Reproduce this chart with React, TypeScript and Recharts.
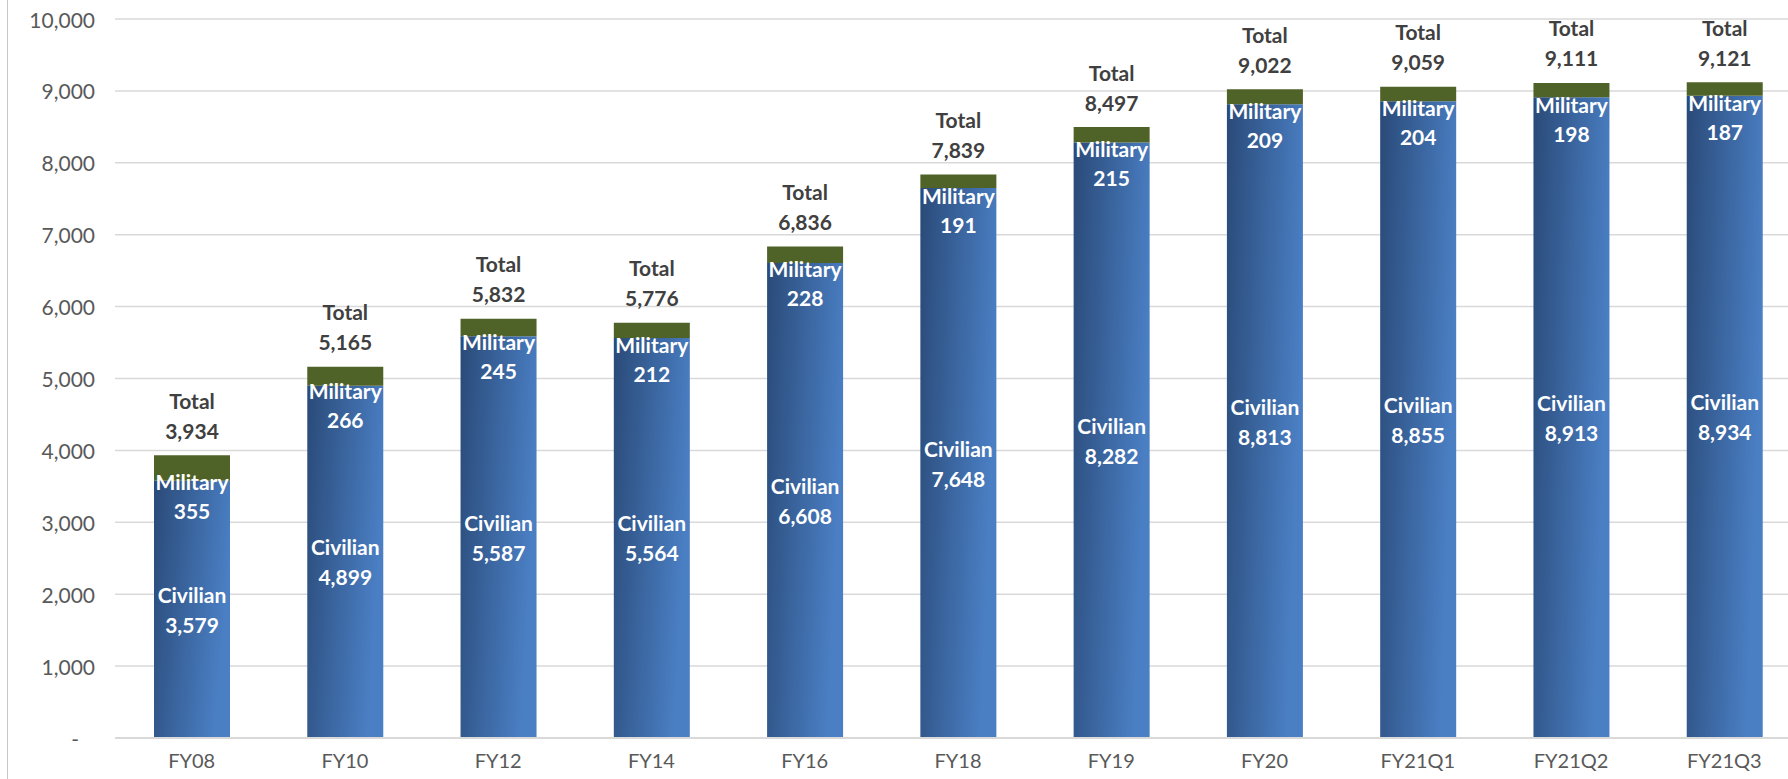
import React from "react";
import {
  BarChart,
  Bar,
  XAxis,
  YAxis,
  CartesianGrid,
  LabelList,
} from "recharts";

const categories = [
  "FY08", "FY10", "FY12", "FY14", "FY16", "FY18",
  "FY19", "FY20", "FY21Q1", "FY21Q2", "FY21Q3",
];
const civilian = [3579, 4899, 5587, 5564, 6608, 7648, 8282, 8813, 8855, 8913, 8934];
const military = [355, 266, 245, 212, 228, 191, 215, 209, 204, 198, 187];
const totals = [3934, 5165, 5832, 5776, 6836, 7839, 8497, 9022, 9059, 9111, 9121];
const yTicks = [0, 1000, 2000, 3000, 4000, 5000, 6000, 7000, 8000, 9000, 10000];

const data = categories.map((label, i) => ({
  label,
  civilian: civilian[i],
  military: military[i],
  total: totals[i],
}));

const FONT = "Lato, 'Open Sans', sans-serif";
const fmt = (v: number) => v.toLocaleString("en-US");

function YTick(props: any) {
  const { x, y, payload } = props;
  const v = payload.value as number;
  return (
    <text
      x={v === 0 ? x - 14 : x + 2}
      y={y}
      textAnchor="end"
      dominantBaseline="central"
      fill="#595959"
      fontSize={21}
      fontFamily={FONT}
    >
      {v === 0 ? "-" : fmt(v)}
    </text>
  );
}

function XTick(props: any) {
  const { x, y, payload } = props;
  return (
    <text
      x={x}
      y={y + 14}
      textAnchor="middle"
      dominantBaseline="central"
      fill="#595959"
      fontSize={20}
      fontFamily={FONT}
    >
      {payload.value}
    </text>
  );
}

function CivilianLabel(props: any) {
  const { x, y, width, height, value } = props;
  const cx = x + width / 2;
  const cy = y + height / 2;
  return (
    <g fontFamily={FONT} fontWeight={700} fontSize={21} fill="#fff" textAnchor="middle">
      <text x={cx} y={cy - 15} dominantBaseline="central">Civilian</text>
      <text x={cx} y={cy + 15} dominantBaseline="central">{fmt(value)}</text>
    </g>
  );
}

function MilitaryLabel(props: any) {
  const { x, y, width, height, value } = props;
  const cx = x + width / 2;
  const mid = y + height / 2;
  return (
    <g fontFamily={FONT} fontWeight={700} fontSize={21} fill="#fff" textAnchor="middle">
      <text x={cx} y={mid + 14} dominantBaseline="central">Military</text>
      <text x={cx} y={mid + 43} dominantBaseline="central">{fmt(value)}</text>
    </g>
  );
}

function TotalLabel(props: any) {
  const { x, y, width, value } = props;
  const cx = x + width / 2;
  return (
    <g fontFamily={FONT} fontWeight={700} fontSize={21} fill="#404040" textAnchor="middle">
      <text x={cx} y={y - 55} dominantBaseline="central">Total</text>
      <text x={cx} y={y - 25} dominantBaseline="central">{fmt(value)}</text>
    </g>
  );
}

export default function App() {
  return (
    <div
      style={{
        position: "fixed",
        left: 0,
        top: 0,
        width: 1788,
        height: 779,
        overflow: "hidden",
        background: "#fff",
      }}
    >
      <div
        style={{
          position: "absolute",
          left: 7,
          top: 0,
          width: 1,
          height: 779,
          background: "#c8c8c8",
        }}
      />
      <BarChart
        width={1801}
        height={779}
        data={data}
        margin={{ top: 19, right: 0, left: 0, bottom: 0 }}
      >
        <defs>
          <linearGradient id="civGrad" x1="0" y1="0" x2="1" y2="0.3">
            <stop offset="0%" stopColor="#2a4a78" />
            <stop offset="100%" stopColor="#4a7fc4" />
          </linearGradient>
        </defs>
        <CartesianGrid vertical={false} stroke="#d9d9d9" strokeWidth={1.5} />
        <XAxis
          dataKey="label"
          axisLine={{ stroke: "#d9d9d9", strokeWidth: 2 }}
          tickLine={false}
          height={41}
          tick={<XTick />}
          interval={0}
        />
        <YAxis
          type="number"
          domain={[0, 10000]}
          ticks={yTicks}
          width={115}
          axisLine={false}
          tickLine={false}
          tickMargin={16}
          tick={<YTick />}
          interval={0}
        />
        <Bar
          dataKey="civilian"
          stackId="a"
          barSize={76}
          fill="url(#civGrad)"
          isAnimationActive={false}
        >
          <LabelList dataKey="civilian" content={<CivilianLabel />} />
        </Bar>
        <Bar
          dataKey="military"
          stackId="a"
          barSize={76}
          fill="#4f6228"
          isAnimationActive={false}
        >
          <LabelList dataKey="military" content={<MilitaryLabel />} />
          <LabelList dataKey="total" content={<TotalLabel />} />
        </Bar>
      </BarChart>
    </div>
  );
}
